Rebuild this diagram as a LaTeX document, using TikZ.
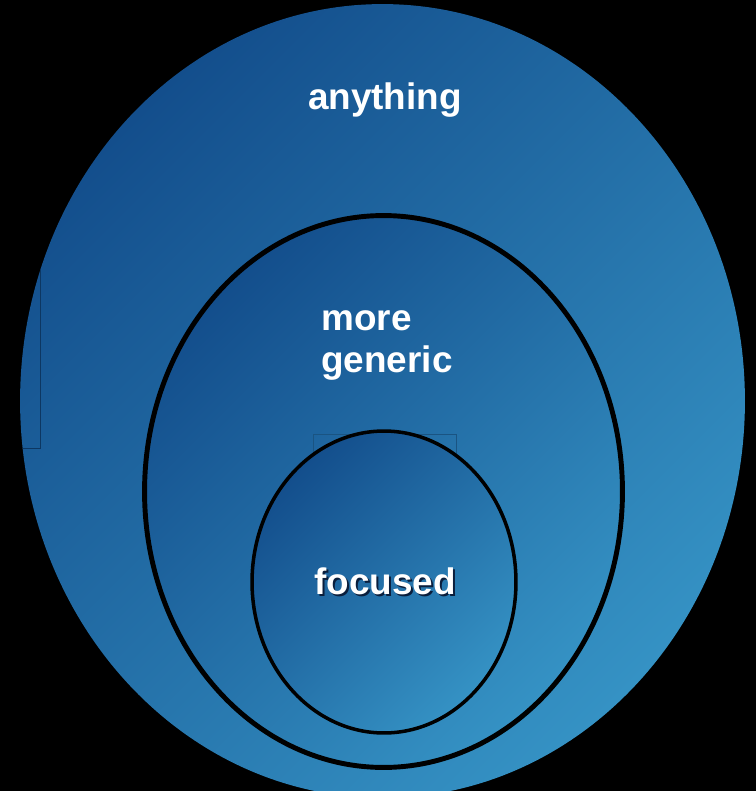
\documentclass[tikz,border=0pt]{standalone}
\usepackage{fontspec}
\setmainfont{Liberation Sans}
\usepackage{tikz}
\definecolor{D}{RGB}{19, 78, 140}
\definecolor{L}{RGB}{53, 146, 196}
\definecolor{S}{RGB}{10, 30, 60}
\newcommand{\shadowtext}[1]{\makebox[0pt][l]{\hspace{1.3pt}\raisebox{-1.3pt}{\textcolor{S}{#1}}}#1}
\tikzset{
  lbl/.style={text=white, inner sep=0pt, font=\fontsize{21}{24}\selectfont\bfseries},
  blob/.style={top color=D, bottom color=L, shading angle=45}
}

\begin{document}
\begin{tikzpicture}[x=0.02cm, y=-0.02cm]
  \fill[black] (0,0) rectangle (756,791);
  \useasboundingbox (0,0) rectangle (756,791);
  % outer set
  \shade[blob] (382.5,401) ellipse [x radius=7.25cm, y radius=7.94cm];
  \begin{scope}
    \clip (382.5,401) ellipse [x radius=7.25cm, y radius=7.94cm];
    \draw[D!70!black, very thin] (-10,150) rectangle (40,448);
  \end{scope}
  \node[lbl] (any) at (385,100) {anything};
  % middle set
  \shade[blob] (383.5,491.5) ellipse [x radius=4.78cm, y radius=5.52cm];
  \draw[black, line width=2.8pt] (383.5,491.5) ellipse [x radius=4.78cm, y radius=5.52cm];
  \node[lbl, align=left, anchor=north west] (gen) at (321,310) {more\\generic};
  % inner set
  \draw[D!60!L!80!black, very thin] (313,434) rectangle (456,520);
  \shade[blob] (384,582) ellipse [x radius=2.64cm, y radius=3.02cm];
  \draw[black, line width=2pt] (384,582) ellipse [x radius=2.64cm, y radius=3.02cm];
  \node[lbl] (foc) at (385,582) {\shadowtext{focused}};
\end{tikzpicture}
\end{document}
